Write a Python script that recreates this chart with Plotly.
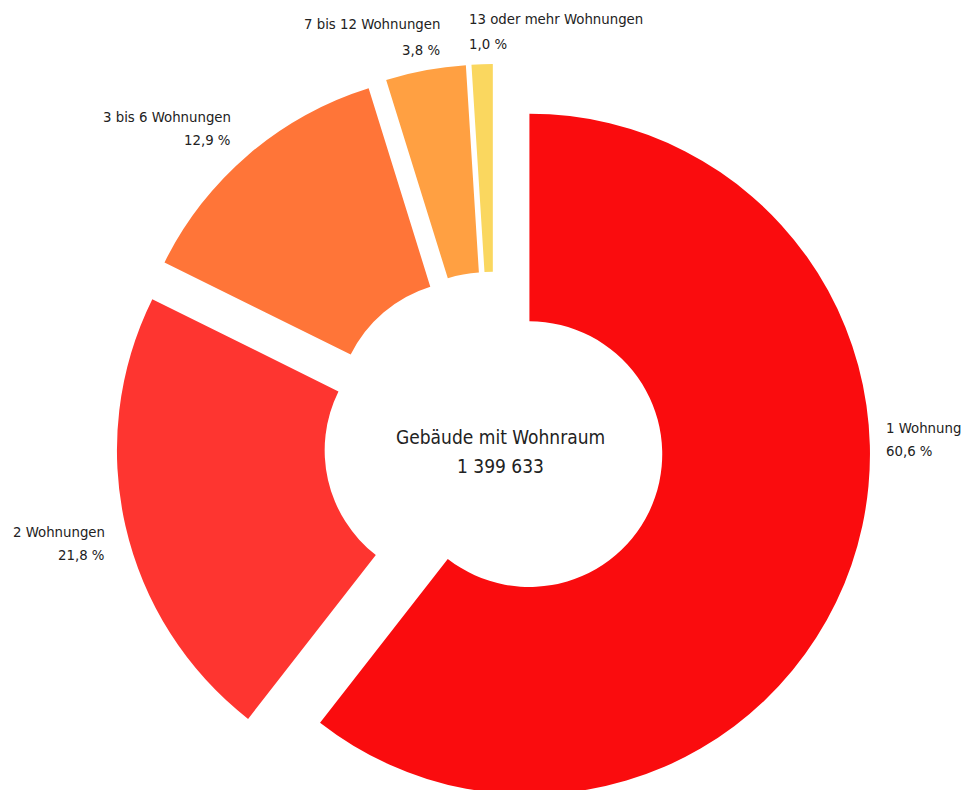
import plotly.graph_objects as go

categories = ["1 Wohnung", "2 Wohnungen", "3 bis 6 Wohnungen", "7 bis 12 Wohnungen", "13 oder mehr Wohnungen"]
shares = [60.6, 21.8, 12.9, 3.8, 1.0]
colors = ["#FA0C0E", "#FE3530", "#FF7538", "#FFA042", "#FAD75F"]
center_title = "Gebäude mit Wohnraum"
center_total = "1 399 633"

# label placement on screen (x, y of first line centre, second line centre, alignment)
label_pos = [(884, 427, 451, "left"), (107, 531, 554, "right"), (233, 116, 140, "right"),
             (442, 24, 49, "right"), (467, 19, 43, "left")]

W, H = 965, 820
L, R, T, B = 116, 93, 64, 0
PW, PH = W - L - R, H - T - B
OFF = 0  # body margin removed below
FONT = "DejaVu Sans Condensed, DejaVu Sans, sans-serif"


def px(sx):
    return (sx - OFF - L) / PW


def py(sy):
    return 1 - (sy - OFF - T) / PH


fig = go.Figure(go.Pie(
    labels=categories,
    values=shares,
    marker=dict(colors=colors, line=dict(width=0)),
    hole=0.39,
    pull=[0.11] * len(shares),
    sort=False,
    direction="clockwise",
    rotation=0,
    textinfo="none",
    hoverinfo="label+percent",
    showlegend=False,
))


def fmt(v):
    return f"{v:.1f}".replace(".", ",") + " %"


for cat, val, (sx, y1, y2, al) in zip(categories, shares, label_pos):
    for txt, sy in ((cat, y1), (fmt(val), y2)):
        fig.add_annotation(
            x=px(sx), y=py(sy), xref="paper", yref="paper",
            xanchor=al, yanchor="middle", align=al, showarrow=False,
            text=txt,
            font=dict(family=FONT, size=14.8, color="#222222"),
        )

for txt, sy in ((center_title, 437), (center_total, 466)):
    fig.add_annotation(
        x=px(500), y=py(sy), xref="paper", yref="paper",
        xanchor="center", yanchor="middle", showarrow=False,
        text=txt,
        font=dict(family=FONT, size=19, color="#222222"),
    )

fig.update_layout(
    width=W, height=H,
    margin=dict(l=L, r=R, t=T, b=B),
    paper_bgcolor="white", plot_bgcolor="white",
    font=dict(family=FONT),
)

fig.write_html(
    "out.html",
    config={"displayModeBar": False},
    post_script=(
        "document.body.style.margin='0';"
        "document.body.style.overflow='hidden';"
        "document.documentElement.style.overflow='hidden';"
    ),
)
